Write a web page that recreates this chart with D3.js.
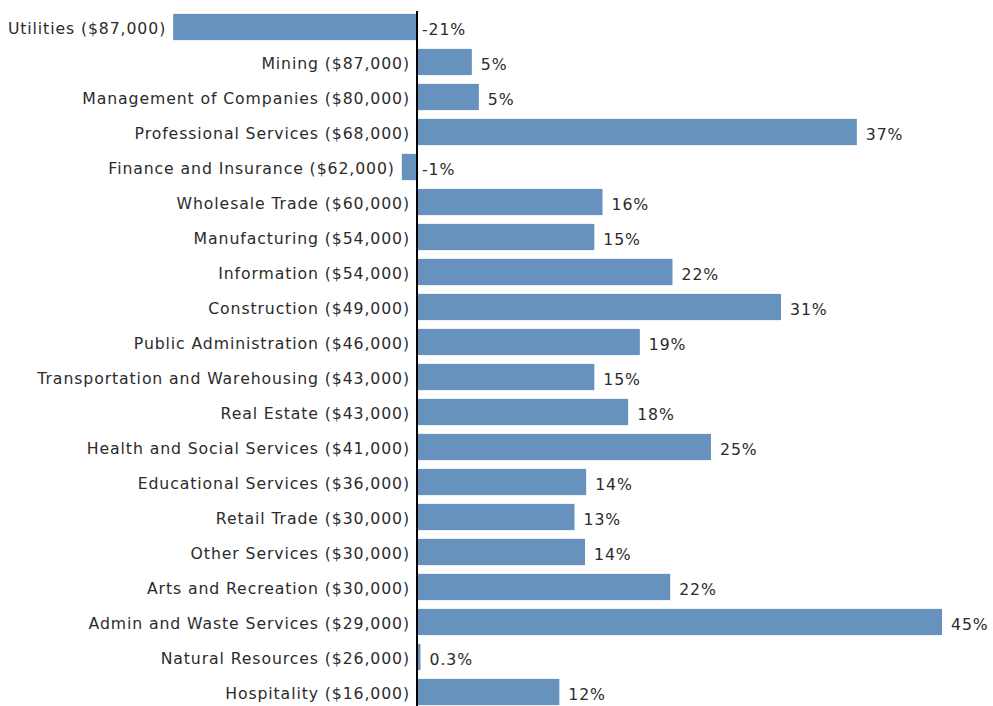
<!DOCTYPE html>
<html>
  <head>
    <meta charset="UTF-8">
    <title>wage growth by industry</title>
    <style>
      body {
        margin: 0;
        background: #fff;
      }
      svg text {
        font-family: "DejaVu Sans", Verdana, sans-serif;
        font-size: 15.7px;
        letter-spacing: 0.9px;
        fill: #2b2b2b;
      }
    </style>
    <script src="https://d3js.org/d3.v7.min.js"></script>
  </head>
  <body>
    <div class="graph1"></div>
    <script>
      // industries, top to bottom, with median wage
      var industries = ["Utilities", "Mining", "Management of Companies", "Professional Services",
        "Finance and Insurance", "Wholesale Trade", "Manufacturing", "Information", "Construction",
        "Public Administration", "Transportation and Warehousing", "Real Estate",
        "Health and Social Services", "Educational Services", "Retail Trade", "Other Services",
        "Arts and Recreation", "Admin and Waste Services", "Natural Resources", "Hospitality"];
      var wages = ["$87,000", "$87,000", "$80,000", "$68,000", "$62,000", "$60,000", "$54,000",
        "$54,000", "$49,000", "$46,000", "$43,000", "$43,000", "$41,000", "$36,000", "$30,000",
        "$30,000", "$30,000", "$29,000", "$26,000", "$16,000"];
      // percent change (bar lengths)
      var changes = [-20.9, 4.7, 5.3, 37.7, -1.3, 15.9, 15.2, 21.9, 31.2, 19.1, 15.2, 18.1,
        25.2, 14.5, 13.5, 14.4, 21.7, 45, 0.3, 12.2];
      var changeLabels = ["-21%", "5%", "5%", "37%", "-1%", "16%", "15%", "22%", "31%", "19%",
        "15%", "18%", "25%", "14%", "13%", "14%", "22%", "45%", "0.3%", "12%"];

      var width = 993, height = 706;

      var svg = d3.select(".graph1").append("svg")
        .attr("width", width)
        .attr("height", height);

      var x = d3.scaleLinear().domain([0, 45]).range([417, 942]);
      var y = d3.scaleBand().domain(industries).range([9.5, 709.5]).paddingInner(0.25).paddingOuter(0.125);

      var rows = svg.selectAll(".row")
          .data(industries)
        .enter().append("g")
          .attr("class", "row");

      rows.append("rect")
        .attr("x", function(d, i) { return Math.min(x(0), x(changes[i])); })
        .attr("y", function(d) { return y(d); })
        .attr("width", function(d, i) { return Math.max(1.5, Math.abs(x(changes[i]) - x(0))); })
        .attr("height", y.bandwidth())
        .attr("fill", "#6692bd");

      // category labels, left of the bar start
      rows.append("text")
        .attr("x", function(d, i) { return Math.min(x(0), x(changes[i])) - 7; })
        .attr("y", function(d) { return y(d) + y.bandwidth() / 2 + 1.5; })
        .attr("dy", "0.35em")
        .style("text-anchor", "end")
        .text(function(d, i) { return d + " (" + wages[i] + ")"; });

      // value labels
      rows.append("text")
        .attr("x", function(d, i) { return changes[i] < 0 ? x(0) + 5 : x(changes[i]) + 9; })
        .attr("y", function(d) { return y(d) + y.bandwidth() / 2 + 3; })
        .attr("dy", "0.35em")
        .text(function(d, i) { return changeLabels[i]; });

      // zero line
      svg.append("line")
        .attr("x1", x(0)).attr("x2", x(0))
        .attr("y1", 11).attr("y2", height)
        .attr("stroke", "#000")
        .attr("stroke-width", 2);
    </script>
  </body>
</html>
